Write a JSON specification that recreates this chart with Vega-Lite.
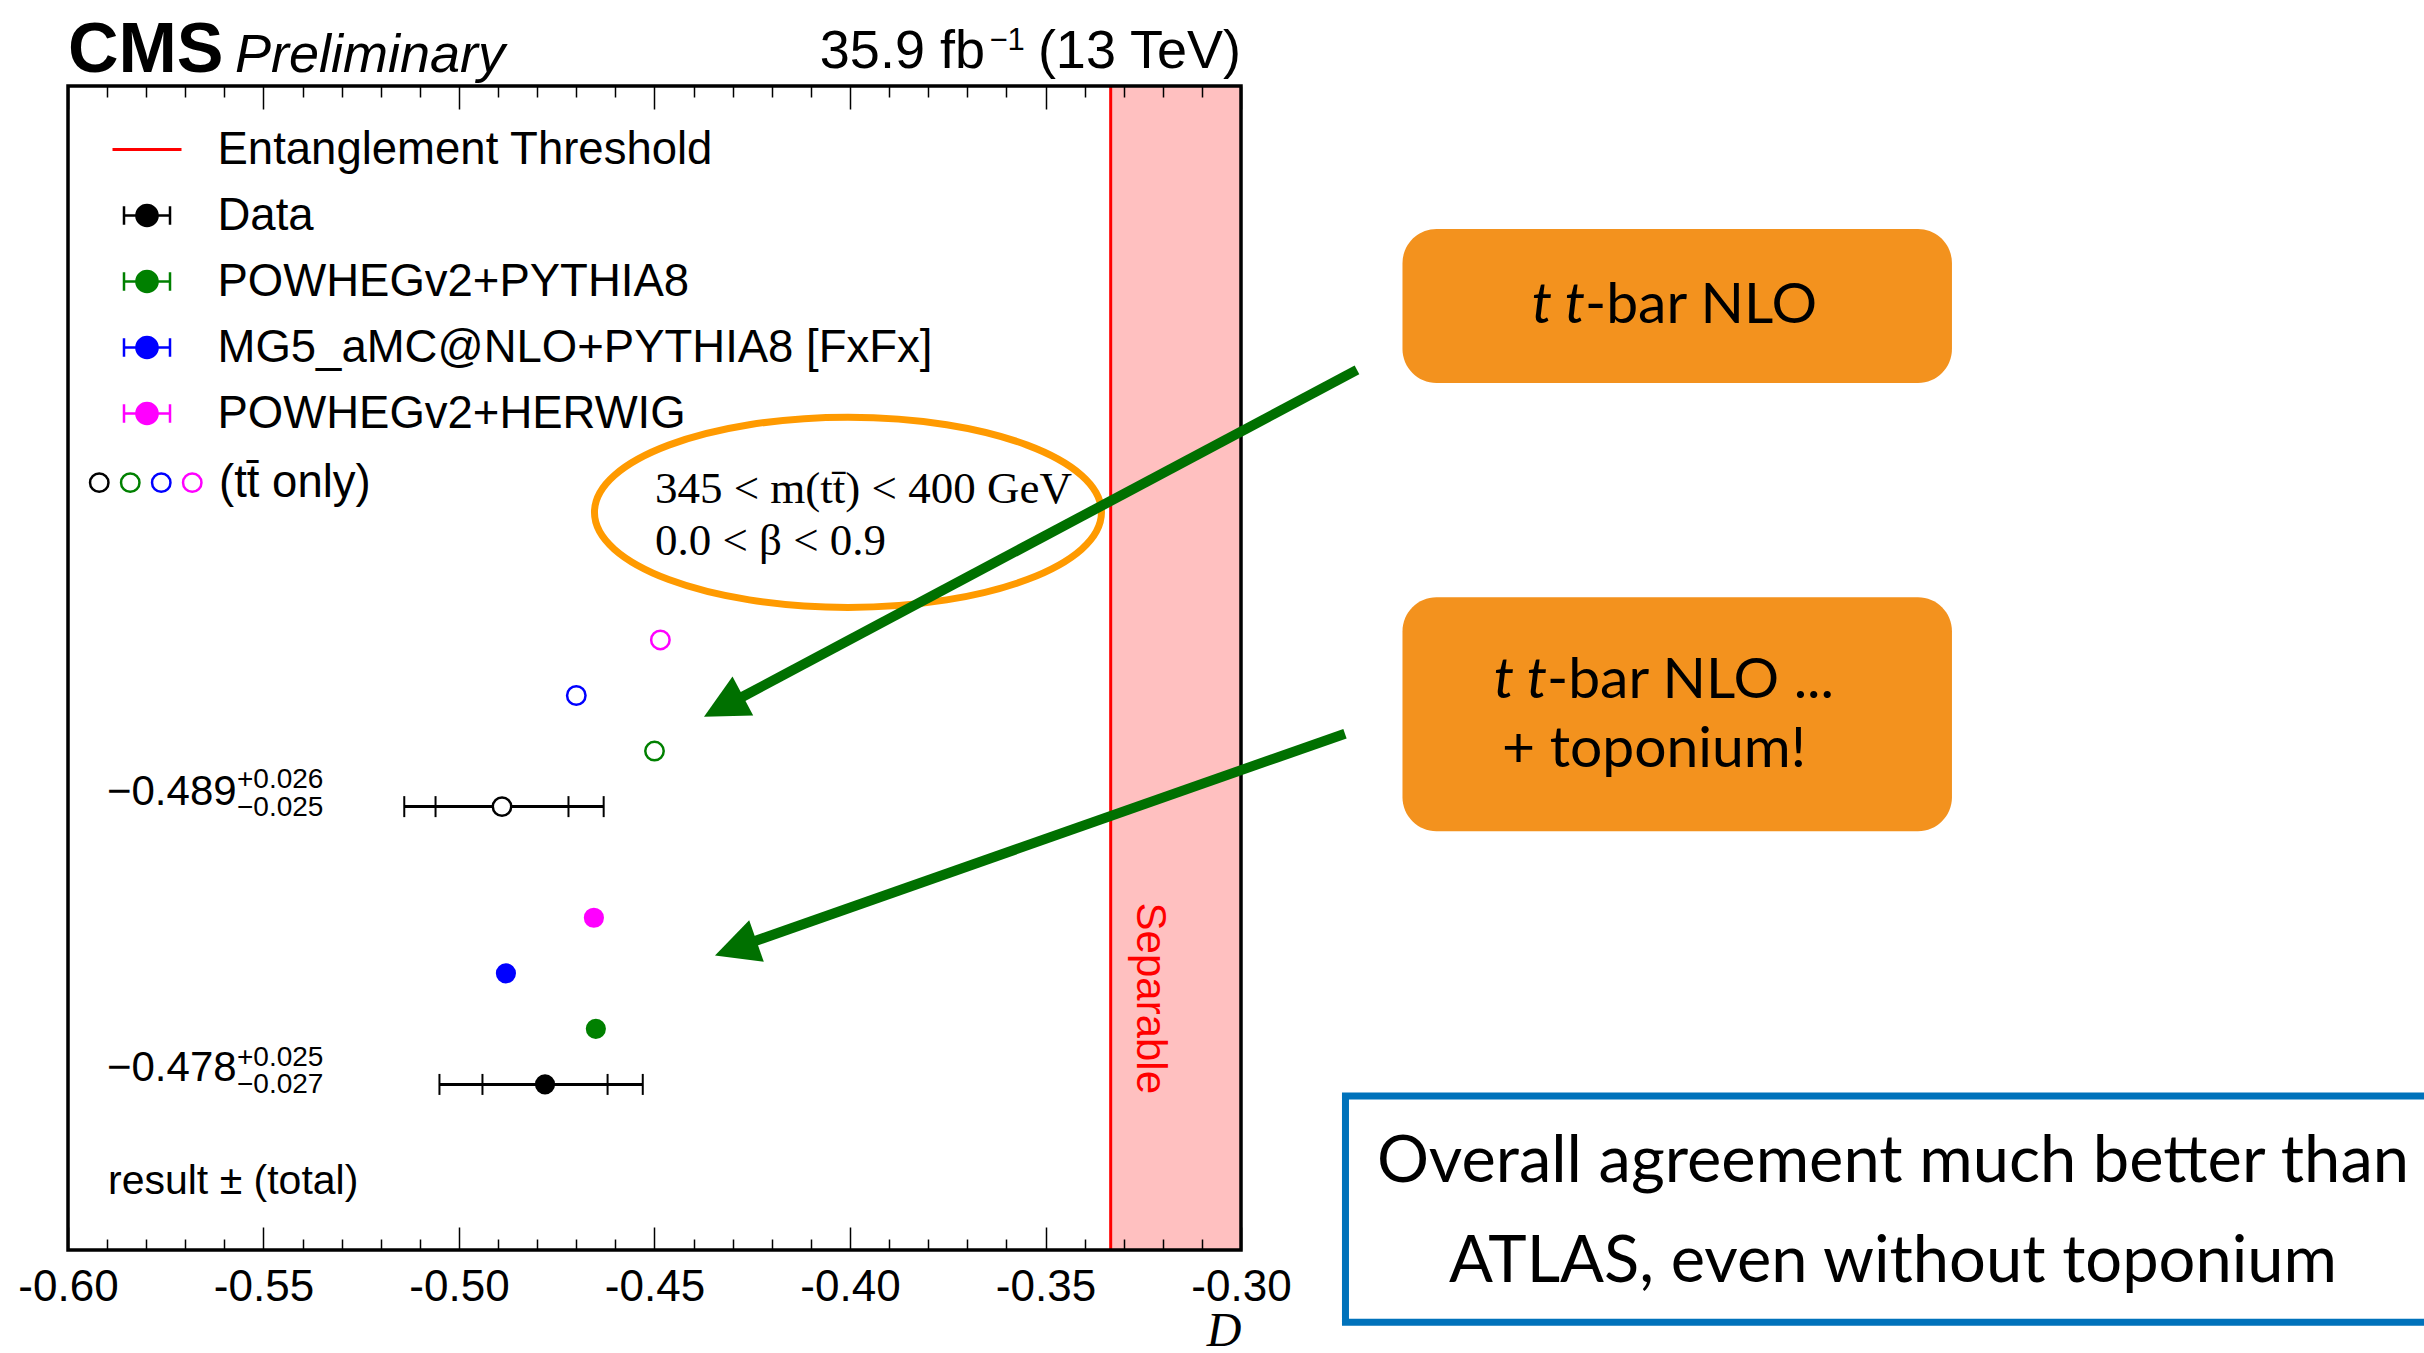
{
  "$schema": "https://vega.github.io/schema/vega-lite/v6.json",
  "width": 1173,
  "height": 1164,
  "autosize": {"type": "none"},
  "padding": {"left": 68, "top": 86, "right": 1183, "bottom": 103},
  "background": "white",
  "config": {"view": {"stroke": null}},
  "datasets": {
    "pts": [
      {"sample": "Data", "set": "full", "D": -0.478, "row": 3, "lo": -0.505, "hi": -0.453, "lo_stat": -0.494, "hi_stat": -0.462},
      {"sample": "POWHEGv2+PYTHIA8", "set": "full", "D": -0.465, "row": 4},
      {"sample": "MG5_aMC@NLO+PYTHIA8 [FxFx]", "set": "full", "D": -0.488, "row": 5},
      {"sample": "POWHEGv2+HERWIG", "set": "full", "D": -0.4655, "row": 6},
      {"sample": "Data", "set": "tt only", "D": -0.489, "row": 8, "lo": -0.514, "hi": -0.463, "lo_stat": -0.506, "hi_stat": -0.472},
      {"sample": "POWHEGv2+PYTHIA8", "set": "tt only", "D": -0.450, "row": 9},
      {"sample": "MG5_aMC@NLO+PYTHIA8 [FxFx]", "set": "tt only", "D": -0.470, "row": 10},
      {"sample": "POWHEGv2+HERWIG", "set": "tt only", "D": -0.4485, "row": 11}
    ],
    "arrows": [
      {"id": 1, "x": -0.27034, "y": 15.86, "x2": -0.42941, "y2": 9.906, "tx": -0.43734, "ty": 9.619},
      {"id": 2, "x": -0.27341, "y": 9.313, "x2": -0.42609, "y2": 5.536, "tx": -0.43453, "ty": 5.320}
    ]
  },
  "layer": [
    {
      "data": {"values": [{}]},
      "mark": {"type": "rect", "color": "#ffc0c0", "opacity": 1},
      "encoding": {
        "x": {"datum": -0.33333, "type": "quantitative", "scale": {"domain": [-0.6, -0.3], "nice": false, "zero": false},
          "axis": {
            "orient": "bottom",
            "values": [-0.6,-0.59,-0.58,-0.57,-0.56,-0.55,-0.54,-0.53,-0.52,-0.51,-0.5,-0.49,-0.48,-0.47,-0.46,-0.45,-0.44,-0.43,-0.42,-0.41,-0.4,-0.39,-0.38,-0.37,-0.36,-0.35,-0.34,-0.33,-0.32,-0.31,-0.3],
            "domain": false, "grid": false, "ticks": true,
            "tickSize": {"condition": {"test": "abs(round(datum.value*100)) % 5 == 0", "value": -23}, "value": -11},
            "tickColor": "black", "tickWidth": 1.5,
            "labelExpr": "abs(round(datum.value*100)) % 5 == 0 ? (datum.value < 0 ? '-' : '') + format(abs(datum.value), '.2f') : ''",
            "labelFont": "Liberation Sans", "labelFontSize": 44, "labelColor": "black", "labelPadding": 38,
            "labelFlush": false, "labelOverlap": false, "labelBound": false, "labelAngle": 0,
            "title": "D", "titleFont": "Liberation Serif", "titleFontStyle": "italic", "titleFontWeight": "normal",
            "titleFontSize": 48, "titleColor": "black", "titleAnchor": "end", "titleAlign": "right",
            "titleBaseline": "alphabetic", "titleX": 1173, "titleY": 95,
            "zindex": 1
          }
        },
        "x2": {"datum": -0.3}
      }
    },
    {
      "data": {"values": [{}]},
      "mark": {"type": "rule", "color": "#ff0000", "strokeWidth": 3},
      "encoding": {
        "x": {"datum": -0.33333, "type": "quantitative", "scale": {"domain": [-0.6, -0.3], "nice": false, "zero": false}, "axis": null},
        "strokeDash": {"datum": "Entanglement Threshold", "type": "nominal",
          "scale": {"domain": ["Entanglement Threshold"], "range": [[1, 0]]},
          "legend": {
            "orient": "none", "legendX": 54.5, "legendY": 39, "title": null, "padding": 0,
            "labelFont": "Liberation Sans", "labelFontSize": 45.5, "labelColor": "black", "labelLimit": 2000, "labelOffset": 46,
            "symbolType": "M-1.5,0H1.5", "symbolSize": 2116, "symbolStrokeWidth": 3, "symbolStrokeColor": "#ff0000"
          }
        }
      }
    },
    {
      "data": {"values": [{"x": -0.40052, "y": 13.297}]},
      "mark": {"type": "point", "shape": "M-1,0A1,0.375 0 1,1 1,0A1,0.375 0 1,1 -1,0Z", "size": 257049, "filled": false, "color": "#ff9a00", "strokeWidth": 7, "opacity": 1},
      "encoding": {
        "x": {"field": "x", "type": "quantitative", "scale": {"domain": [-0.6, -0.3], "nice": false, "zero": false}, "axis": null},
        "y": {"field": "y", "type": "quantitative", "scale": {"domain": [0.02, 20.97], "nice": false, "zero": false}, "axis": null}
      }
    },
    {
      "data": {"values": [
        {"t": "345 < m(tt̄) < 400 GeV", "x": -0.44988, "y": 13.72},
        {"t": "0.0 < β < 0.9", "x": -0.44988, "y": 12.78}
      ]},
      "mark": {"type": "text", "font": "Liberation Serif", "fontSize": 45, "align": "left", "baseline": "middle", "color": "black"},
      "encoding": {
        "x": {"field": "x", "type": "quantitative", "scale": {"domain": [-0.6, -0.3], "nice": false, "zero": false}, "axis": null},
        "y": {"field": "y", "type": "quantitative", "scale": {"domain": [0.02, 20.97], "nice": false, "zero": false}, "axis": null},
        "text": {"field": "t"}
      }
    },
    {
      "data": {"values": [{}]},
      "mark": {"type": "rect", "filled": false, "color": "black", "strokeWidth": 3.5, "opacity": 1},
      "encoding": {
        "x": {"datum": -0.6, "type": "quantitative", "scale": {"domain": [-0.6, -0.3], "nice": false, "zero": false},
          "axis": {
            "orient": "top",
            "values": [-0.6,-0.59,-0.58,-0.57,-0.56,-0.55,-0.54,-0.53,-0.52,-0.51,-0.5,-0.49,-0.48,-0.47,-0.46,-0.45,-0.44,-0.43,-0.42,-0.41,-0.4,-0.39,-0.38,-0.37,-0.36,-0.35,-0.34,-0.33,-0.32,-0.31,-0.3],
            "domain": false, "grid": false, "labels": false, "title": null, "ticks": true,
            "tickSize": {"condition": {"test": "abs(round(datum.value*100)) % 5 == 0", "value": -23}, "value": -11},
            "tickColor": "black", "tickWidth": 1.5, "zindex": 1
          }
        },
        "x2": {"datum": -0.3}
      }
    },
    {
      "data": {"name": "pts"},
      "transform": [{"filter": "datum.sample == 'Data'"}],
      "mark": {"type": "rule", "color": "black", "strokeWidth": 3},
      "encoding": {
        "x": {"field": "lo", "type": "quantitative", "scale": {"domain": [-0.6, -0.3], "nice": false, "zero": false}, "axis": null},
        "x2": {"field": "hi"},
        "y": {"field": "row", "type": "quantitative", "scale": {"domain": [0.02, 20.97], "nice": false, "zero": false}, "axis": null}
      }
    },
    {
      "data": {"name": "pts"},
      "transform": [{"filter": "datum.sample == 'Data'"}, {"fold": ["lo", "hi", "lo_stat", "hi_stat"], "as": ["k", "v"]}],
      "mark": {"type": "point", "shape": "M0,-1V1", "size": 441, "filled": false, "color": "black", "strokeWidth": 2, "opacity": 1},
      "encoding": {
        "x": {"field": "v", "type": "quantitative", "scale": {"domain": [-0.6, -0.3], "nice": false, "zero": false}, "axis": null},
        "y": {"field": "row", "type": "quantitative", "scale": {"domain": [0.02, 20.97], "nice": false, "zero": false}, "axis": null}
      }
    },
    {
      "data": {"name": "pts"},
      "transform": [{"filter": "datum.set == 'tt only'"}],
      "mark": {"type": "point", "shape": "circle", "filled": false, "fill": "white", "size": 340, "strokeWidth": 2.5, "opacity": 1},
      "encoding": {
        "x": {"field": "D", "type": "quantitative", "scale": {"domain": [-0.6, -0.3], "nice": false, "zero": false}, "axis": null},
        "y": {"field": "row", "type": "quantitative", "scale": {"domain": [0.02, 20.97], "nice": false, "zero": false}, "axis": null},
        "color": {"field": "sample", "type": "nominal",
          "sort": ["Data", "POWHEGv2+PYTHIA8", "MG5_aMC@NLO+PYTHIA8 [FxFx]", "POWHEGv2+HERWIG"],
          "scale": {"range": ["#000000", "#008000", "#0000ff", "#ff00ff"]},
          "legend": {
            "orient": "none", "legendX": 15, "legendY": 373.5, "padding": 0, "direction": "horizontal",
            "title": "(tt̄ only)", "titleOrient": "right", "titleAnchor": "middle", "titleBaseline": "middle", "titlePadding": 13,
            "titleFont": "Liberation Sans", "titleFontSize": 45.5, "titleFontWeight": "normal", "titleColor": "black", "titleLimit": 2000,
            "labelExpr": "''",
            "labelFont": "Liberation Sans", "labelFontSize": 45.5, "labelColor": "black", "labelLimit": 2000, "labelOffset": -15,
            "symbolType": "circle", "symbolSize": 340, "symbolStrokeWidth": 2.5, "symbolOffset": -6.5, "columnPadding": 0
          }
        }
      }
    },
    {
      "data": {"name": "pts"},
      "transform": [{"filter": "datum.set == 'full'"}],
      "mark": {"type": "point", "shape": "circle", "filled": true, "size": 330, "opacity": 1},
      "encoding": {
        "x": {"field": "D", "type": "quantitative", "scale": {"domain": [-0.6, -0.3], "nice": false, "zero": false}, "axis": null},
        "y": {"field": "row", "type": "quantitative", "scale": {"domain": [0.02, 20.97], "nice": false, "zero": false}, "axis": null},
        "fill": {"field": "sample", "type": "nominal",
          "scale": {"domain": ["Data", "POWHEGv2+PYTHIA8", "MG5_aMC@NLO+PYTHIA8 [FxFx]", "POWHEGv2+HERWIG"], "range": ["#000000", "#008000", "#0000ff", "#ff00ff"]},
          "legend": {
            "orient": "none", "legendX": 54.5, "legendY": 105, "title": null, "padding": 0,
            "labelFont": "Liberation Sans", "labelFontSize": 45.5, "labelColor": "black", "labelLimit": 2000, "labelOffset": 46,
            "symbolType": "M-1,-0.4V0.4M1,-0.4V0.4M-1,0H1M-0.46,0A0.46,0.46 0 1,1 0.46,0A0.46,0.46 0 1,1 -0.46,0Z",
            "symbolSize": 2116, "symbolStrokeWidth": 2.5, "rowPadding": 18
          }
        },
        "stroke": {"field": "sample", "type": "nominal",
          "scale": {"domain": ["Data", "POWHEGv2+PYTHIA8", "MG5_aMC@NLO+PYTHIA8 [FxFx]", "POWHEGv2+HERWIG"], "range": ["#000000", "#008000", "#0000ff", "#ff00ff"]},
          "legend": {
            "orient": "none", "legendX": 54.5, "legendY": 105, "title": null, "padding": 0,
            "labelFont": "Liberation Sans", "labelFontSize": 45.5, "labelColor": "black", "labelLimit": 2000, "labelOffset": 46,
            "symbolType": "M-1,-0.4V0.4M1,-0.4V0.4M-1,0H1M-0.46,0A0.46,0.46 0 1,1 0.46,0A0.46,0.46 0 1,1 -0.46,0Z",
            "symbolSize": 2116, "symbolStrokeWidth": 2.5, "rowPadding": 18
          }
        }
      }
    },
    {
      "data": {"values": [
        {"t": "−0.489", "x": -0.59003, "y": 8.27},
        {"t": "−0.478", "x": -0.59003, "y": 3.29}
      ]},
      "mark": {"type": "text", "font": "Liberation Sans", "fontSize": 42, "align": "left", "baseline": "middle", "color": "black"},
      "encoding": {
        "x": {"field": "x", "type": "quantitative", "scale": {"domain": [-0.6, -0.3], "nice": false, "zero": false}, "axis": null},
        "y": {"field": "y", "type": "quantitative", "scale": {"domain": [0.02, 20.97], "nice": false, "zero": false}, "axis": null},
        "text": {"field": "t"}
      }
    },
    {
      "data": {"values": [
        {"t": "+0.026", "x": -0.55678, "y": 8.48},
        {"t": "−0.025", "x": -0.55678, "y": 7.97},
        {"t": "+0.025", "x": -0.55678, "y": 3.48},
        {"t": "−0.027", "x": -0.55678, "y": 2.99}
      ]},
      "mark": {"type": "text", "font": "Liberation Sans", "fontSize": 28, "align": "left", "baseline": "middle", "color": "black"},
      "encoding": {
        "x": {"field": "x", "type": "quantitative", "scale": {"domain": [-0.6, -0.3], "nice": false, "zero": false}, "axis": null},
        "y": {"field": "y", "type": "quantitative", "scale": {"domain": [0.02, 20.97], "nice": false, "zero": false}, "axis": null},
        "text": {"field": "t"}
      }
    },
    {
      "data": {"values": [{"t": "result ± (total)", "x": -0.58977, "y": 1.24}]},
      "mark": {"type": "text", "font": "Liberation Sans", "fontSize": 41, "align": "left", "baseline": "middle", "color": "black"},
      "encoding": {
        "x": {"field": "x", "type": "quantitative", "scale": {"domain": [-0.6, -0.3], "nice": false, "zero": false}, "axis": null},
        "y": {"field": "y", "type": "quantitative", "scale": {"domain": [0.02, 20.97], "nice": false, "zero": false}, "axis": null},
        "text": {"field": "t"}
      }
    },
    {
      "data": {"name": "arrows"},
      "mark": {"type": "rule", "color": "#007000", "strokeWidth": 10, "strokeCap": "butt"},
      "encoding": {
        "x": {"field": "x", "type": "quantitative", "scale": {"domain": [-0.6, -0.3], "nice": false, "zero": false}, "axis": null},
        "y": {"field": "y", "type": "quantitative", "scale": {"domain": [0.02, 20.97], "nice": false, "zero": false}, "axis": null},
        "x2": {"field": "x2"},
        "y2": {"field": "y2"}
      }
    },
    {
      "data": {"name": "arrows"},
      "transform": [{"filter": "datum.id == 1"}],
      "mark": {"type": "point", "shape": "M0,0L-0.5,1L0.5,1Z", "size": 7744, "angle": 242, "filled": true, "color": "#007000", "opacity": 1, "strokeWidth": 0},
      "encoding": {
        "x": {"field": "tx", "type": "quantitative", "scale": {"domain": [-0.6, -0.3], "nice": false, "zero": false}, "axis": null},
        "y": {"field": "ty", "type": "quantitative", "scale": {"domain": [0.02, 20.97], "nice": false, "zero": false}, "axis": null}
      }
    },
    {
      "data": {"name": "arrows"},
      "transform": [{"filter": "datum.id == 2"}],
      "mark": {"type": "point", "shape": "M0,0L-0.5,1L0.5,1Z", "size": 7744, "angle": 250.6, "filled": true, "color": "#007000", "opacity": 1, "strokeWidth": 0},
      "encoding": {
        "x": {"field": "tx", "type": "quantitative", "scale": {"domain": [-0.6, -0.3], "nice": false, "zero": false}, "axis": null},
        "y": {"field": "ty", "type": "quantitative", "scale": {"domain": [0.02, 20.97], "nice": false, "zero": false}, "axis": null}
      }
    },
    {
      "data": {"values": [
        {"x": -0.2587, "x2": -0.11817, "y": 18.396, "y2": 15.626},
        {"x": -0.2587, "x2": -0.11817, "y": 11.768, "y2": 7.559}
      ]},
      "mark": {"type": "rect", "color": "#f3921e", "cornerRadius": 34, "opacity": 1},
      "encoding": {
        "x": {"field": "x", "type": "quantitative", "scale": {"domain": [-0.6, -0.3], "nice": false, "zero": false}, "axis": null},
        "x2": {"field": "x2"},
        "y": {"field": "y", "type": "quantitative", "scale": {"domain": [0.02, 20.97], "nice": false, "zero": false}, "axis": null},
        "y2": {"field": "y2"}
      }
    },
    {
      "data": {"values": [
        {"t": "t t", "x": -0.21203, "y": 17.011},
        {"t": "t t", "x": -0.22175, "y": 10.266}
      ]},
      "mark": {"type": "text", "font": "Lato", "fontStyle": "italic", "fontSize": 57, "align": "right", "baseline": "middle", "color": "black"},
      "encoding": {
        "x": {"field": "x", "type": "quantitative", "scale": {"domain": [-0.6, -0.3], "nice": false, "zero": false}, "axis": null},
        "y": {"field": "y", "type": "quantitative", "scale": {"domain": [0.02, 20.97], "nice": false, "zero": false}, "axis": null},
        "text": {"field": "t"}
      }
    },
    {
      "data": {"values": [
        {"t": "-bar NLO", "x": -0.21203, "y": 17.011},
        {"t": "-bar NLO ...", "x": -0.22175, "y": 10.266},
        {"t": "+ toponium!", "x": -0.23325, "y": 9.025}
      ]},
      "mark": {"type": "text", "font": "Lato", "fontSize": 57, "align": "left", "baseline": "middle", "color": "black"},
      "encoding": {
        "x": {"field": "x", "type": "quantitative", "scale": {"domain": [-0.6, -0.3], "nice": false, "zero": false}, "axis": null},
        "y": {"field": "y", "type": "quantitative", "scale": {"domain": [0.02, 20.97], "nice": false, "zero": false}, "axis": null},
        "text": {"field": "t"}
      }
    },
    {
      "data": {"values": [{"x": -0.27328, "x2": 0.0066, "y": 2.793, "y2": -1.281}]},
      "mark": {"type": "rect", "filled": false, "color": "#0072bb", "strokeWidth": 7, "opacity": 1},
      "encoding": {
        "x": {"field": "x", "type": "quantitative", "scale": {"domain": [-0.6, -0.3], "nice": false, "zero": false}, "axis": null},
        "x2": {"field": "x2"},
        "y": {"field": "y", "type": "quantitative", "scale": {"domain": [0.02, 20.97], "nice": false, "zero": false}, "axis": null},
        "y2": {"field": "y2"}
      }
    },
    {
      "data": {"values": [
        {"t": "Overall agreement much better than", "x": -0.13326, "y": 1.597},
        {"t": "ATLAS, even without toponium", "x": -0.13326, "y": -0.202}
      ]},
      "mark": {"type": "text", "font": "Lato", "fontSize": 65, "align": "center", "baseline": "middle", "color": "black"},
      "encoding": {
        "x": {"field": "x", "type": "quantitative", "scale": {"domain": [-0.6, -0.3], "nice": false, "zero": false}, "axis": null},
        "y": {"field": "y", "type": "quantitative", "scale": {"domain": [0.02, 20.97], "nice": false, "zero": false}, "axis": null},
        "text": {"field": "t"}
      }
    },
    {
      "data": {"values": [{"t": "CMS", "x": -0.6, "y": 21.223}]},
      "mark": {"type": "text", "font": "Liberation Sans", "fontWeight": "bold", "fontSize": 70, "align": "left", "baseline": "alphabetic", "color": "black"},
      "encoding": {
        "x": {"field": "x", "type": "quantitative", "scale": {"domain": [-0.6, -0.3], "nice": false, "zero": false}, "axis": null},
        "y": {"field": "y", "type": "quantitative", "scale": {"domain": [0.02, 20.97], "nice": false, "zero": false}, "axis": null},
        "text": {"field": "t"}
      }
    },
    {
      "data": {"values": [{"t": "Preliminary", "x": -0.55729, "y": 21.223}]},
      "mark": {"type": "text", "font": "Liberation Sans", "fontStyle": "italic", "fontSize": 54, "align": "left", "baseline": "alphabetic", "color": "black"},
      "encoding": {
        "x": {"field": "x", "type": "quantitative", "scale": {"domain": [-0.6, -0.3], "nice": false, "zero": false}, "axis": null},
        "y": {"field": "y", "type": "quantitative", "scale": {"domain": [0.02, 20.97], "nice": false, "zero": false}, "axis": null},
        "text": {"field": "t"}
      }
    },
    {
      "data": {"values": [
        {"t": "35.9 fb", "x": -0.36548, "y": 21.295},
        {"t": "(13 TeV)", "x": -0.3, "y": 21.295}
      ]},
      "mark": {"type": "text", "font": "Liberation Sans", "fontSize": 54, "align": "right", "baseline": "alphabetic", "color": "black"},
      "encoding": {
        "x": {"field": "x", "type": "quantitative", "scale": {"domain": [-0.6, -0.3], "nice": false, "zero": false}, "axis": null},
        "y": {"field": "y", "type": "quantitative", "scale": {"domain": [0.02, 20.97], "nice": false, "zero": false}, "axis": null},
        "text": {"field": "t"}
      }
    },
    {
      "data": {"values": [{"t": "−1", "x": -0.36433, "y": 21.619}]},
      "mark": {"type": "text", "font": "Liberation Sans", "fontSize": 31, "align": "left", "baseline": "alphabetic", "color": "black"},
      "encoding": {
        "x": {"field": "x", "type": "quantitative", "scale": {"domain": [-0.6, -0.3], "nice": false, "zero": false}, "axis": null},
        "y": {"field": "y", "type": "quantitative", "scale": {"domain": [0.02, 20.97], "nice": false, "zero": false}, "axis": null},
        "text": {"field": "t"}
      }
    },
    {
      "data": {"values": [{"t": "Separable", "x": -0.32328, "y": 4.55}]},
      "mark": {"type": "text", "font": "Liberation Sans", "fontSize": 42, "angle": 90, "align": "center", "baseline": "middle", "color": "#ff0000"},
      "encoding": {
        "x": {"field": "x", "type": "quantitative", "scale": {"domain": [-0.6, -0.3], "nice": false, "zero": false}, "axis": null},
        "y": {"field": "y", "type": "quantitative", "scale": {"domain": [0.02, 20.97], "nice": false, "zero": false}, "axis": null},
        "text": {"field": "t"}
      }
    }
  ],
  "resolve": {"axis": {"x": "independent"}}
}
